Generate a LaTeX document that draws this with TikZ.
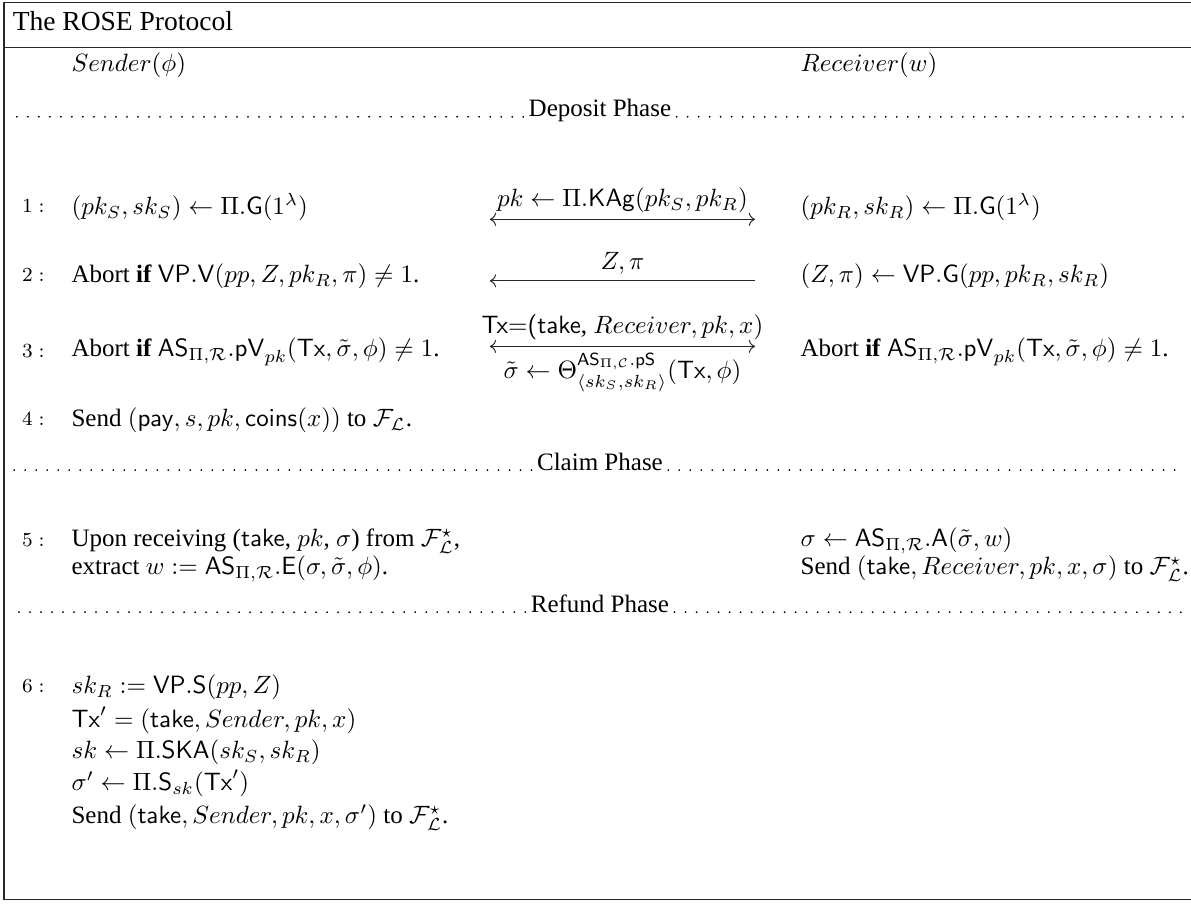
\documentclass[tikz,border=0pt]{standalone}
\usepackage[no-math]{fontspec}
\setmainfont{Liberation Serif}
\usepackage{amsmath,amssymb}
\usetikzlibrary{arrows.meta,positioning}
\definecolor{ink}{RGB}{40,40,40}
\tikzset{
  >={Computer Modern Rightarrow},
  step num/.style={anchor=base east,inner sep=0pt,font=\footnotesize},
  party/.style={anchor=west,inner sep=0pt,align=left},
  phase/.style={anchor=base,inner sep=2pt},
  dots/.style={line width=0.8pt,line cap=round,dash pattern=on 0pt off 4.4pt},
  msg/.style={line width=0.4pt,draw=ink},
  msg label/.style={inner sep=2.5pt},
  frame/.style={draw=ink,line width=0.5pt},
}

\begin{document}
\begin{tikzpicture}[scale=0.96]
  \useasboundingbox (0,0) rectangle (17.43,-13.22);
  % frame and title
  \draw[frame] (17.43,-0.04) -- (0.06,-0.04) -- (0.06,-13.16) -- (17.43,-13.16);
  \draw[frame] (0.06,-0.70) -- (17.43,-0.70);
  \node[anchor=base west,inner sep=0pt,font=\fontsize{11}{13}\selectfont] (title) at (0.18,-0.45) {The ROSE Protocol};
  \node[party] (snd) at (1.04,-0.95) {$Sender(\phi)$};
  \node[party] (rcv) at (11.71,-0.95) {$Receiver(w)$};
  % phase separators
  \foreach \nm/\txt/\y in {dep/Deposit Phase/-1.71, clm/Claim Phase/-6.88, rfd/Refund Phase/-8.96}{
    \node[phase] (\nm) at (8.78,\y) {\txt};
    \coordinate (\nm L) at (0.12,\y);
    \coordinate (\nm R) at (17.34,\y);
    \draw[dots] (\nm.base west) -- (\nm L);
    \draw[dots] (\nm.base east) -- (\nm R);
  }
  % step numbers
  \foreach \i/\y in {1/-3.03, 2/-4.04, 3/-5.15, 4/-6.15, 5/-7.92, 6/-10.06}
    \node[step num] (n\i) at (0.66,\y-0.08) {$\i:$};
  % sender side
  \node[party] (s1) at (1.04,-3.03) {$(pk_S, sk_S) \gets \Pi.\mathsf{G}(1^\lambda)$};
  \node[party] (s2) at (1.04,-4.04) {Abort \textbf{if} $\mathsf{VP.V}(pp, Z, pk_R, \pi) \neq 1$.};
  \node[party] (s3) at (1.04,-5.15) {Abort \textbf{if} $\mathsf{AS}_{\Pi,\mathcal{R}}.\mathsf{pV}_{pk}(\mathsf{Tx}, \tilde{\sigma}, \phi) \neq 1$.};
  \node[party] (s4) at (1.04,-6.15) {Send $(\mathsf{pay}, s, pk, \mathsf{coins}(x))$ to $\mathcal{F}_{\mathcal{L}}$.};
  \node[party] (s5a) at (1.04,-7.92) {Upon receiving (\textsf{take}, $pk$, $\sigma$) from $\mathcal{F}^{\star}_{\mathcal{L}}$,};
  \node[party] (s5b) at (1.04,-8.32) {extract $w := \mathsf{AS}_{\Pi,\mathcal{R}}.\mathsf{E}(\sigma, \tilde{\sigma}, \phi)$.};
  \node[party] (s6a) at (1.04,-10.06) {$sk_R := \mathsf{VP.S}(pp, Z)$};
  \node[party] (s6b) at (1.04,-10.54) {$\mathsf{Tx}' = (\mathsf{take}, Sender, pk, x)$};
  \node[party] (s6c) at (1.04,-11.01) {$sk \gets \Pi.\mathsf{SKA}(sk_S, sk_R)$};
  \node[party] (s6d) at (1.04,-11.46) {$\sigma' \gets \Pi.\mathsf{S}_{sk}(\mathsf{Tx}')$};
  \node[party] (s6e) at (1.04,-11.96) {Send $(\mathsf{take}, Sender, pk, x, \sigma')$ to $\mathcal{F}^{\star}_{\mathcal{L}}$.};
  % receiver side
  \node[party] (r1) at (11.71,-3.03) {$(pk_R, sk_R) \gets \Pi.\mathsf{G}(1^\lambda)$};
  \node[party] (r2) at (11.71,-4.04) {$(Z, \pi) \gets \mathsf{VP.G}(pp, pk_R, sk_R)$};
  \node[party] (r3) at (11.71,-5.15) {Abort \textbf{if} $\mathsf{AS}_{\Pi,\mathcal{R}}.\mathsf{pV}_{pk}(\mathsf{Tx}, \tilde{\sigma}, \phi) \neq 1$.};
  \node[party] (r5a) at (11.71,-7.92) {$\sigma \gets \mathsf{AS}_{\Pi,\mathcal{R}}.\mathsf{A}(\tilde{\sigma}, w)$};
  \node[party] (r5b) at (11.71,-8.32) {Send $(\mathsf{take}, Receiver, pk, x, \sigma)$ to $\mathcal{F}^{\star}_{\mathcal{L}}$.};
  % messages
  \foreach \i/\y in {1/-3.21, 2/-4.11, 3/-5.07}{
    \coordinate (m\i L) at (7.17,\y);
    \coordinate (m\i R) at (11.05,\y);
  }
  \draw[msg,<->] (m1L) -- node[msg label,above] (l1) {$pk \gets \Pi.\mathsf{KAg}(pk_S, pk_R)$} (m1R);
  \draw[msg,<-] (m2L) -- node[msg label,above] (l2) {$Z, \pi$} (m2R);
  \draw[msg,<->] (m3L) -- node[msg label,above] (l3) {\textsf{Tx=(take}, $Receiver, pk, x)$}
    node[msg label,below] (l3b) {$\tilde{\sigma} \gets \Theta^{\mathsf{AS}_{\Pi,\mathcal{C}}.\mathsf{pS}}_{\langle sk_S, sk_R\rangle}(\mathsf{Tx}, \phi)$} (m3R);
\end{tikzpicture}
\end{document}
